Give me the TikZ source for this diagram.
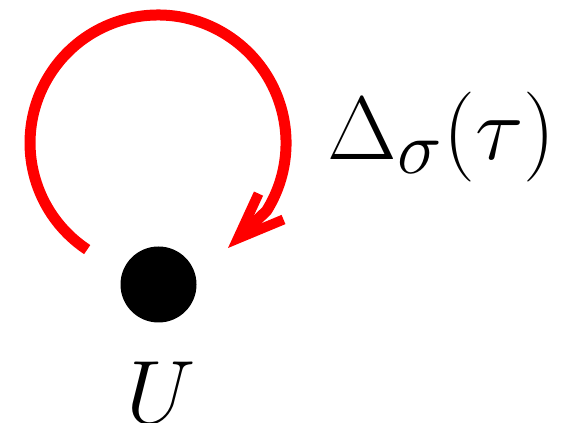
\documentclass[tikz,border=0pt]{standalone}
\usetikzlibrary{arrows.meta}
\definecolor{loopRed}{RGB}{255,0,0}

\begin{document}
\begin{tikzpicture}[
  x=1pt,y=1pt,
  font=\Huge,
  turn/.style={draw=loopRed,line width=11pt,-{Straight Barb[length=46pt,width=36pt,line width=10pt]}},
  site/.style={circle,fill=black,inner sep=0pt,minimum size=76pt},
  mathtext/.style={inner sep=0pt,scale=3.617}
]
\useasboundingbox (0,0) rectangle (576,423);

\node[site] (site) at (158.5,138.5) {};
\node[mathtext,anchor=base] (name) at (161,0) {$U$};
\node[mathtext,anchor=base west] (rate) at (327,263) {$\Delta_\sigma(\tau)$};

% free ends of the self loop
\coordinate (loopstart) at (87.2,173.4);
\coordinate (looptip) at (228,175);
\draw[turn] (loopstart) arc[start angle=236.4,end angle=-32,radius=128pt] -- (looptip);

\end{tikzpicture}
\end{document}
